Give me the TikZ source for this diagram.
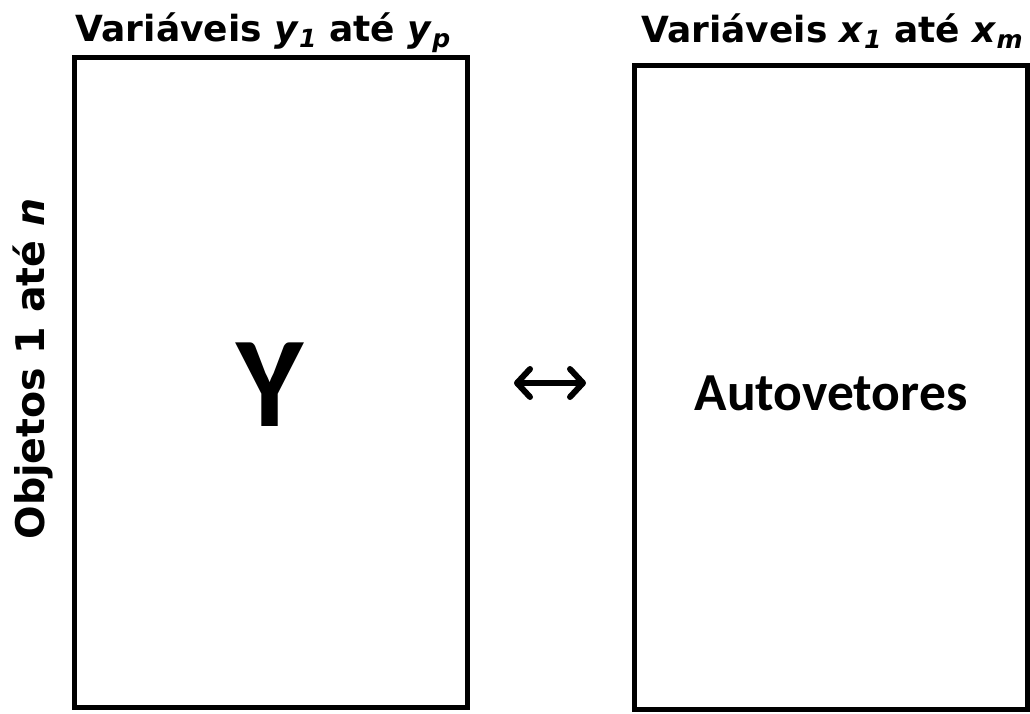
\documentclass[tikz,border=0pt]{standalone}
\usepackage{fontspec}
\setmainfont{DejaVu Sans}
\newfontfamily\calib{Carlito}
\usetikzlibrary{arrows.meta}
% italic subscript for the variable names
\newcommand{\vsub}[1]{\raisebox{-0.3ex}{\fontsize{25}{25}\selectfont\textit{#1}}}
\tikzset{
  matbox/.style={draw=black, line width=5pt},
  title/.style={font=\fontsize{36}{36}\selectfont\bfseries, inner sep=0pt},
  sidetitle/.style={font=\fontsize{39.5}{39.5}\selectfont\bfseries, inner sep=0pt},
  barb/.tip={Straight Barb[round,length=13pt,width=28pt]},
}
\begin{document}
\begin{tikzpicture}[x=1pt, y=-1pt]
\useasboundingbox (0,0) rectangle (1030,714);
% the two matrices
\draw[matbox] (74.5,57.5) rectangle (467.5,707.5);
\draw[matbox] (634.5,65.5) rectangle (1027,709.5);
% headings
\node[title, anchor=base] (tl) at (263,42) {Variáveis \textit{y}\vsub{1} até \textit{y}\vsub{p}};
\node[title, anchor=base west] (tr) at (641,43) {Variáveis \textit{x}\vsub{1} até \textit{x}\vsub{m}};
\node[sidetitle, anchor=base, rotate=90] (tv) at (44,369) {Objetos 1 até \textit{n}};
% matrix contents
\node[font=\calib\fontsize{129}{129}\selectfont\bfseries, anchor=base, inner sep=0pt] (Y) at (270,426) {Y};
\node[font=\calib\fontsize{53.5}{53.5}\selectfont\bfseries, anchor=base, inner sep=0pt] (A) at (831,410) {Autovetores};
% correspondence arrow
\coordinate (al) at (514,383);
\coordinate (ar) at (586,383);
\draw[line width=6pt, barb-barb] (al) -- (ar);
\end{tikzpicture}
\end{document}
